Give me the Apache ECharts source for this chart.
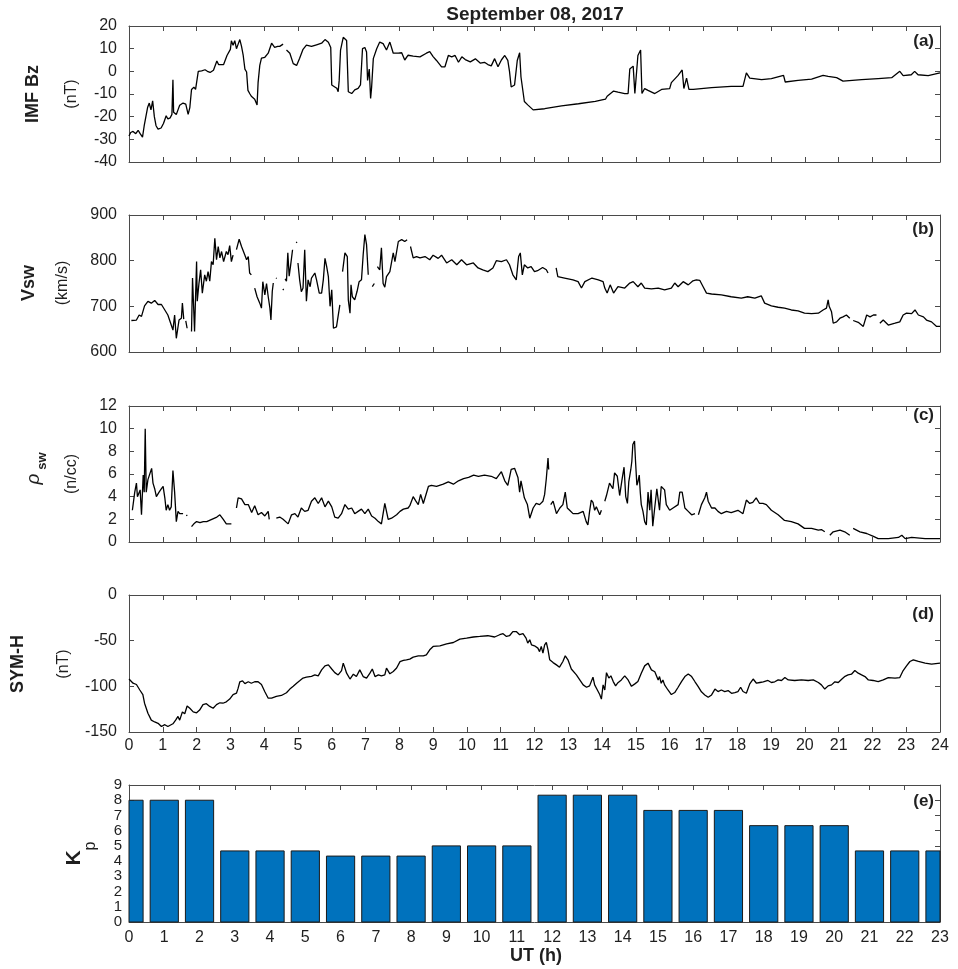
<!DOCTYPE html>
<html><head><meta charset="utf-8">
<script src="https://cdn.jsdelivr.net/npm/echarts/dist/echarts.min.js"></script>
<style>html,body{margin:0;padding:0;background:#fff}#c{width:958px;height:969px}</style>
</head><body><div id="c"></div>
<script>
// ---- data (UT hour, value); null = data gap ----
const imfBz = [[0,-28.5],[0.05,-27],[0.12,-26.5],[0.2,-27.5],[0.27,-26],[0.33,-27.5],[0.4,-29],[0.45,-24],[0.5,-20],[0.55,-16],[0.6,-14],[0.65,-17],[0.7,-13],[0.75,-20],[0.8,-24],[0.86,-25.5],[0.95,-25],[1.02,-23],[1.1,-19.6],[1.15,-21],[1.22,-20.5],[1.27,-19],[1.3,-3.7],[1.32,-18],[1.4,-19],[1.45,-17],[1.5,-15],[1.6,-14],[1.68,-14.5],[1.75,-19],[1.8,-16],[1.85,-8],[1.92,-7],[1.97,-8],[2.05,0],[2.15,0.2],[2.25,0.7],[2.32,0],[2.4,-0.5],[2.5,0.5],[2.6,4.6],[2.65,3],[2.7,2.6],[2.8,3],[2.9,7],[3.0,9.7],[3.03,13.5],[3.08,11.5],[3.13,13.5],[3.18,10],[3.23,12],[3.28,14],[3.33,11],[3.38,7],[3.43,1],[3.48,-0.3],[3.52,-8.4],[3.58,-10],[3.62,-11],[3.72,-12.3],[3.79,-14.8],[3.82,-5],[3.87,2.6],[3.92,5.8],[4.02,6.2],[4.12,8],[4.22,12.4],[4.31,10.6],[4.4,11],[4.46,11],[4.56,12],null,[4.66,9.4],[4.76,8],[4.86,3.4],[4.96,2.6],[5.05,5.8],[5.15,9.7],[5.25,11.6],[5.4,11],[5.55,11.7],[5.7,12.4],[5.8,14],[5.9,12.8],[5.97,10.5],[6.0,-6],[6.09,-6.9],[6.15,-7.5],[6.19,-9],[6.22,-4],[6.26,9.4],[6.34,15],[6.44,13.6],[6.49,-9],[6.59,-9.8],[6.68,-8.2],[6.78,-7.5],[6.85,-6],[6.91,10],[6.98,10.5],[7.03,8.5],[7.06,-4],[7.11,1],[7.15,-12],[7.18,-7],[7.23,5.6],[7.33,10],[7.42,12.9],[7.52,12.2],[7.62,9.4],[7.72,12.9],[7.82,8],[7.97,8],[8.07,8.2],[8.16,5],[8.26,7.1],[8.41,6.7],[8.61,6.4],[8.8,8],[8.9,8.7],[9.0,6.5],[9.1,4.8],[9.25,2],[9.35,2],[9.45,7],[9.55,6.4],[9.65,7],[9.75,4],[9.85,6.4],[9.95,5.2],[10.1,4.2],[10.25,5.5],[10.4,3.6],[10.52,4],[10.62,3],[10.72,2.4],[10.82,5.6],[10.92,2],[11.02,5],[11.12,7],[11.21,4.8],[11.26,0],[11.31,-6.9],[11.41,-6],[11.49,4.8],[11.56,8.2],[11.6,-2.5],[11.7,-13.3],[11.8,-14.8],[11.96,-17],[12.0,-16.8],[12.3,-16.5],[12.8,-15.2],[13.3,-14.3],[13.8,-13.3],[14.1,-12.3],[14.15,-11],[14.34,-8.7],[14.47,-9.2],[14.67,-9.8],[14.77,-9.8],[14.82,1],[14.92,2.3],[14.97,-9.8],[15.02,-9.8],[15.06,7],[15.14,9.4],[15.18,-9.8],[15.26,-7.6],[15.36,-8.4],[15.56,-9.8],[15.76,-8],[16.0,-7.6],[16.05,-5],[16.1,-5.3],[16.25,-1.8],[16.37,0.6],[16.42,-7.6],[16.5,-3],[16.57,-8],[16.7,-8],[17.24,-7.2],[17.82,-6.6],[18.17,-6.6],[18.27,-0.7],[18.37,-3],[18.72,-3.7],[19.01,-3.2],[19.37,-1.8],[19.42,-4.7],[19.8,-4],[20.2,-3.4],[20.54,-1.8],[20.69,-2.2],[20.94,-2.8],[21.13,-4.3],[21.68,-3.7],[22.17,-3.2],[22.57,-2.8],[22.81,0],[22.91,-1.9],[23.15,-1.5],[23.25,0],[23.35,-1.5],[23.65,-1.9],[24,-0.7]];

const vsw = [[0.07,669],[0.22,670],[0.3,681],[0.37,678],[0.46,701],[0.56,711],[0.66,707],[0.76,713],[0.86,704],[0.96,704],[1.06,692],[1.15,681],[1.25,659],[1.3,648],[1.35,681],[1.4,630],[1.48,670],[1.55,674],[1.58,707],[1.62,672],null,[1.68,668],[1.72,652],null,[1.85,645],[1.88,762],[1.94,645],[2.0,798],[2.02,711],[2.07,750],[2.12,780],[2.17,729],[2.24,769],[2.29,755],[2.34,776],[2.39,755],[2.44,798],[2.49,791],[2.54,849],[2.59,802],[2.64,831],[2.69,806],[2.74,820],[2.8,798],[2.88,820],[2.93,813],[2.98,833],[3.03,798],[3.08,812],null,[3.18,824],[3.26,847],[3.33,831],[3.43,812],[3.48,802],[3.53,809],[3.57,773],[3.62,769],null,[3.72,740],[3.79,721],[3.87,707],[3.92,696],[3.96,754],[4.02,725],[4.07,750],[4.12,721],[4.17,696],[4.2,670],[4.24,733],[4.27,751],null,[4.35,762],[4.37,761],null,[4.55,736],[4.58,738],null,[4.62,760],[4.66,755],[4.7,817],[4.74,766],[4.78,788],[4.84,824],null,[4.95,839],[4.97,841],null,[5.0,795],[5.05,758],[5.1,732],[5.15,740],[5.2,824],[5.25,711],[5.3,758],[5.36,743],[5.4,762],[5.5,773],[5.55,758],[5.63,729],[5.7,729],[5.75,758],[5.8,805],[5.85,787],[5.9,765],[5.95,700],[6.0,736],[6.05,652],[6.09,648],[6.14,655],[6.19,652],[6.24,703],null,[6.32,776],[6.39,817],[6.46,809],[6.49,714],[6.54,685],[6.57,747],[6.61,721],[6.68,714],[6.75,733],[6.81,754],[6.88,758],[6.93,813],[6.98,857],[7.03,835],[7.08,769],null,[7.2,743],[7.26,750],null,[7.35,787],[7.38,787],[7.42,780],[7.47,828],[7.52,750],[7.57,742],[7.62,765],[7.72,776],[7.82,817],[7.87,798],[7.97,842],[8.07,846],[8.16,842],[8.23,846],null,[8.33,831],[8.41,806],[8.51,809],[8.61,806],[8.76,809],[8.9,802],[9.0,812],[9.15,805],[9.25,812],[9.4,795],[9.55,802],[9.7,791],[9.84,802],[9.99,791],[10.19,795],[10.33,784],[10.47,780],[10.62,776],[10.77,784],[10.87,800],[11.02,798],[11.17,802],[11.26,791],[11.36,769],[11.46,758],[11.53,809],[11.58,817],[11.64,769],[11.7,791],[11.8,784],[11.9,787],[12.0,776],[12.09,778],[12.24,785],[12.35,780],[12.4,773],null,[12.64,784],[12.69,765],[12.89,762],[13.14,758],[13.29,754],[13.39,740],[13.49,754],[13.7,762],[13.89,758],[14.03,754],[14.08,740],[14.15,729],[14.24,747],[14.34,729],[14.47,743],[14.67,740],[14.82,751],[14.92,754],[15.06,743],[15.16,751],[15.26,740],[15.46,738],[15.66,740],[15.85,736],[16.05,740],[16.15,751],[16.25,743],[16.4,754],[16.55,747],[16.69,756],[16.79,758],[16.89,757],[16.99,743],[17.09,729],[17.24,727],[17.53,725],[17.82,721],[18.12,718],[18.31,721],[18.52,718],[18.71,723],[18.81,707],[19.01,701],[19.21,698],[19.4,696],[19.6,692],[19.8,690],[19.99,685],[20.2,684],[20.4,685],[20.54,692],[20.64,696],[20.69,714],[20.72,700],[20.79,688],[20.84,663],[20.94,666],[21.04,674],[21.13,677],[21.23,681],[21.33,674],null,[21.43,669],[21.58,665],[21.73,656],[21.83,681],[21.93,677],[22.03,681],[22.12,681],null,[22.22,663],[22.32,670],[22.47,659],[22.67,663],[22.81,666],[22.91,681],[23.01,685],[23.16,684],[23.26,692],[23.36,681],[23.51,677],[23.6,670],[23.75,666],[23.9,656],[24,656]];

const rhoSw = [[0.1,2.8],[0.17,4.4],[0.22,5.2],[0.25,4],[0.3,4.1],[0.33,4.6],[0.37,2.4],[0.42,5.9],[0.45,4.4],[0.48,10],[0.51,4.4],[0.56,5.5],[0.61,5.4],[0.67,6.5],[0.71,5.2],[0.76,4.7],[0.81,4],[0.89,4.4],[0.96,4.7],[1.01,4.9],[1.06,3.9],[1.1,2.8],[1.15,3.3],[1.2,2.8],[1.25,3.1],[1.3,6.3],[1.35,4.4],[1.4,1.8],[1.45,2.7],[1.5,2.5],[1.6,2.5],null,[1.7,2.4],[1.72,2.3],null,[1.85,1.35],[1.92,1.6],[2.0,1.8],[2.1,1.7],[2.2,1.8],[2.3,1.8],[2.45,2.0],[2.6,2.2],[2.69,2.4],[2.79,2.0],[2.88,1.6],[3.03,1.6],null,[3.18,3.0],[3.23,3.9],[3.33,3.8],[3.43,3.3],[3.53,3.3],[3.63,2.6],[3.72,3.2],[3.82,2.4],[3.92,2.6],[4.02,2.3],[4.12,2.7],[4.15,2.0],null,[4.36,2.1],[4.46,2.2],[4.56,2.0],[4.71,1.6],[4.81,2.4],[4.91,2.5],[5.0,2.2],[5.1,3.0],[5.2,2.7],[5.3,2.8],[5.4,3.6],[5.5,3.9],[5.6,3.4],[5.7,3.9],[5.8,3.1],[5.9,3.6],[6.0,3.1],[6.09,2.2],[6.19,2.1],[6.29,2.5],[6.39,3.3],[6.49,2.9],[6.59,3.0],[6.68,2.5],[6.78,2.7],[6.88,2.9],[6.98,2.5],[7.08,2.9],[7.18,2.3],[7.28,2.1],[7.38,1.8],[7.47,1.6],[7.52,2.5],[7.57,3.4],[7.67,2.0],[7.77,2.1],[7.92,2.4],[8.02,2.7],[8.12,2.9],[8.26,3.0],[8.31,3.2],[8.41,4.0],[8.49,3.6],[8.56,3.3],[8.63,4.2],[8.71,3.4],[8.76,3.3],[8.86,4.9],[8.95,5.0],[9.1,4.9],[9.3,5.1],[9.45,5.3],[9.6,5.1],[9.75,5.4],[9.9,5.6],[10.05,5.7],[10.2,5.9],[10.34,5.8],[10.52,5.9],[10.72,5.8],[10.87,5.6],[11.02,6.2],[11.12,5.4],[11.21,5.0],[11.31,6.4],[11.41,6.5],[11.51,5.7],[11.56,4.4],[11.6,5.4],[11.7,3.9],[11.79,3.3],[11.86,2.1],[11.96,3.0],[12.05,3.4],[12.15,3.3],[12.25,3.6],[12.3,4.2],[12.35,5.6],[12.4,7.4],[12.42,6.4],null,[12.48,3.3],[12.55,3.6],[12.65,2.5],[12.75,3.0],[12.84,3.3],[12.91,4.4],[12.97,3.0],[13.04,2.8],[13.14,2.5],[13.29,2.5],[13.44,2.7],[13.53,1.8],[13.58,1.5],[13.63,2.7],[13.68,3.7],[13.73,3.5],[13.78,2.8],[13.83,3.1],[13.93,2.4],[13.98,2.8],null,[14.08,3.6],[14.13,4.1],[14.22,5.2],[14.32,4.7],[14.37,6.1],[14.45,5.8],[14.52,4.1],[14.59,5.5],[14.65,6.6],[14.7,4.0],[14.75,3.4],[14.79,5.3],[14.85,6.4],[14.88,7.1],[14.91,8.6],[14.96,8.9],[14.99,7.1],[15.03,5.0],[15.06,5.3],[15.1,5.9],[15.13,4.4],[15.16,3.3],[15.21,2.7],[15.26,1.8],[15.31,1.5],[15.36,4.4],[15.41,2.8],[15.45,4.6],[15.5,1.4],[15.55,2.8],[15.62,4.7],[15.7,2.8],[15.75,4.9],[15.85,4.6],[15.9,3.3],[16.0,2.8],[16.1,3.0],[16.25,3.3],[16.3,4.4],[16.37,4.4],[16.45,3.0],[16.55,2.7],[16.65,2.4],[16.75,2.5],null,[16.85,2.4],[16.94,3.3],[17.04,3.9],[17.09,4.4],[17.14,3.6],[17.24,3.0],[17.34,3.0],[17.43,2.7],[17.53,2.5],[17.68,2.7],[17.82,2.6],[18.02,2.8],[18.17,2.5],[18.27,3.7],[18.37,3.4],[18.46,3.5],[18.56,3.9],[18.66,3.4],[18.76,3.4],[18.86,3.3],[19.01,2.8],[19.21,2.4],[19.4,1.9],[19.6,1.8],[19.8,1.6],[19.99,1.2],[20.2,1.2],[20.4,1.05],[20.49,1.1],[20.59,0.9],null,[20.74,0.6],[20.84,0.9],[21.04,1.05],[21.18,0.9],[21.33,0.6],null,[21.43,1.2],[21.63,0.9],[21.83,0.75],[22.03,0.5],[22.17,0.3],[22.47,0.3],[22.77,0.4],[22.87,0.6],[22.97,0.3],[23.16,0.4],[23.56,0.3],[24,0.3]];

const symH = [[0,-92],[0.12,-96.6],[0.22,-98],[0.27,-96.6],[0.32,-104],[0.41,-109],[0.46,-118.5],[0.56,-129.5],[0.66,-137],[0.76,-139],[0.86,-140.5],[0.96,-144],[1.06,-142],[1.15,-144],[1.2,-146],[1.3,-141],[1.38,-137],[1.45,-133],[1.5,-137],[1.58,-128],[1.65,-130],[1.72,-121.5],[1.8,-124],[1.9,-128],[2.0,-129],[2.09,-126],[2.19,-120],[2.29,-119],[2.39,-122],[2.49,-124],[2.59,-120],[2.69,-118],[2.78,-118.5],[2.88,-117],[2.98,-114],[3.08,-109],[3.18,-107.5],[3.23,-102],[3.28,-95],[3.36,-94],[3.43,-97],[3.53,-95],[3.62,-96.6],[3.72,-95],[3.82,-95],[3.92,-98],[4.02,-106],[4.12,-113],[4.22,-113],[4.36,-111],[4.51,-110],[4.66,-107],[4.76,-103],[4.86,-100],[4.96,-96.6],[5.05,-94],[5.15,-91],[5.25,-90],[5.4,-89],[5.5,-87.5],[5.6,-88.5],[5.7,-82],[5.8,-77.6],[5.9,-76.5],[6.0,-81],[6.09,-85],[6.19,-87.5],[6.29,-82.7],[6.34,-74.6],[6.39,-80],[6.44,-85.6],[6.54,-92],[6.64,-86.7],[6.73,-89.3],[6.83,-82],[6.93,-89.3],[7.03,-91],[7.13,-85.6],[7.2,-81],[7.28,-89.3],[7.38,-87.5],[7.47,-88.5],[7.57,-87.5],[7.62,-80],[7.72,-86.3],[7.82,-83.8],[7.92,-80],[8.02,-73],[8.12,-71.7],[8.21,-71],[8.31,-70.2],[8.41,-68],[8.56,-66.6],[8.71,-66.6],[8.8,-65.5],[8.9,-60],[9.0,-56.3],[9.2,-55.6],[9.4,-53.4],[9.6,-52],[9.79,-48.3],[9.99,-47.2],[10.19,-46],[10.38,-45.4],[10.62,-44.6],[10.82,-46],[10.97,-43.5],[11.07,-42.4],[11.17,-45.4],[11.26,-44.6],[11.36,-40],[11.46,-40],[11.56,-43.5],[11.66,-42.4],[11.75,-47.2],[11.8,-52.7],[11.86,-49],[11.91,-54.5],[12.0,-55.6],[12.1,-58.2],[12.15,-62],[12.2,-56.3],[12.25,-63.7],[12.3,-54.5],[12.35,-52],[12.4,-60],[12.45,-71],[12.55,-74],[12.65,-76.5],[12.74,-79],[12.84,-72.8],[12.91,-66.6],[12.99,-71],[13.09,-81],[13.14,-79],[13.24,-87.5],[13.34,-93],[13.44,-98.4],[13.54,-101],[13.63,-99.5],[13.73,-90],[13.78,-98.4],[13.86,-104],[13.93,-109],[13.98,-114],[14.03,-98.4],[14.08,-104],[14.13,-85],[14.2,-91],[14.26,-88.5],[14.33,-94.8],[14.4,-99.5],[14.47,-96],[14.57,-93],[14.67,-88.5],[14.77,-93],[14.87,-100],[14.97,-97.3],[15.06,-94.8],[15.16,-85.6],[15.26,-77.6],[15.36,-74.6],[15.41,-72.8],[15.46,-82],[15.56,-84],[15.66,-93],[15.7,-89.3],[15.75,-96.6],[15.8,-93],[15.85,-98.4],[15.95,-104],[16.05,-109],[16.15,-106.8],[16.25,-101],[16.35,-94.8],[16.45,-89.3],[16.55,-86.4],[16.65,-89.3],[16.75,-95],[16.84,-100],[16.94,-106],[17.04,-109.4],[17.14,-112],[17.24,-109.4],[17.34,-103],[17.43,-105.7],[17.53,-104],[17.63,-105.7],[17.73,-104.6],[17.83,-107.6],[17.93,-106.8],[18.02,-105.7],[18.1,-101],[18.17,-105.7],[18.27,-107.6],[18.37,-97.3],[18.47,-92],[18.57,-96.6],[18.67,-95.8],[18.77,-95],[18.91,-93.6],[19.01,-95.8],[19.11,-95],[19.21,-93],[19.31,-93.6],[19.41,-90.4],[19.51,-93],[19.7,-93.6],[19.9,-93],[20.1,-93.6],[20.25,-93],[20.4,-95.8],[20.49,-98.4],[20.59,-103],[20.69,-99.5],[20.79,-98.4],[20.89,-95],[20.99,-95.8],[21.09,-92.2],[21.19,-89],[21.28,-87.5],[21.38,-86.7],[21.48,-82.7],[21.58,-85.6],[21.68,-87.5],[21.78,-89.3],[21.88,-93],[22.02,-93.6],[22.17,-94.8],[22.32,-93],[22.47,-90.4],[22.67,-91.1],[22.81,-90.4],[22.91,-82.7],[23.01,-77.6],[23.11,-72.8],[23.21,-71],[23.36,-72.8],[23.56,-74.6],[23.75,-75.7],[24,-74.6]];

const kpHours = [0,1,2,3,4,5,6,7,8,9,10,11,12,13,14,15,16,17,18,19,20,21,22,23];
const kpValues = [8,8,8,4.67,4.67,4.67,4.33,4.33,4.33,5,5,5,8.33,8.33,8.33,7.33,7.33,7.33,6.33,6.33,6.33,4.67,4.67,4.67];

const yTicks = [
  {min:-40, max:20, interval:10},
  {min:600, max:900, interval:100},
  {min:0, max:12, interval:2},
  {min:-150, max:0, interval:50},
  {min:0, max:9, interval:1}
];
const xTicks = [{max:24},{max:24},{max:24},{max:24},{max:23}];

// ---- layout ----
const FONT = '"Liberation Sans", Arial, Helvetica, sans-serif';
const AX = '#4a4a4a';
const TXT = '#1f1f1f';
const gridPos = [
  {top:26, height:136},
  {top:215, height:137},
  {top:406, height:136},
  {top:595, height:137},
  {top:785, height:137}
];
const showXLabels = [false,false,false,true,true];

const grids = [], xAxes = [], yAxes = [];
gridPos.forEach((g,i) => {
  grids.push({left:129, right:18, top:g.top, height:g.height, containLabel:false});
  ['bottom','top'].forEach((pos,k) => {
    xAxes.push({
      type:'value', gridIndex:i, position:pos, min:0, max:xTicks[i].max, interval:1,
      axisLine:{show:true, onZero:false, lineStyle:{color:AX, width:1}},
      axisTick:{show:true, inside:true, length:5, lineStyle:{color:AX, width:1}},
      axisLabel:{show: k===0 && showXLabels[i], color:TXT, fontSize:16, fontFamily:FONT,
                 margin: i===4 ? 8 : 6, showMinLabel:true, showMaxLabel:true, hideOverlap:false},
      splitLine:{show:false}
    });
  });
  ['left','right'].forEach((pos,k) => {
    yAxes.push({
      type:'value', gridIndex:i, position:pos,
      min:yTicks[i].min, max:yTicks[i].max, interval:yTicks[i].interval,
      axisLine:{show:true, onZero:false, lineStyle:{color:AX, width:1}},
      axisTick:{show:true, inside:true, length:5, lineStyle:{color:AX, width:1}},
      axisLabel:{show: k===0, color:TXT, fontSize: i===4 ? 15 : 16, fontFamily:FONT,
                 margin: i===4 ? 7 : 12, showMinLabel:true, showMaxLabel:true, hideOverlap:false,
                 interval:0, lineHeight: i===4 ? 14 : 16},
      splitLine:{show:false}
    });
  });
});

const prep = arr => arr.map(d => d === null ? ['-','-'] : d);
const lineSeries = (data, i) => ({
  type:'line', xAxisIndex:2*i, yAxisIndex:2*i, data:prep(data),
  showSymbol:false, symbol:'none', connectNulls:false, clip:true,
  lineStyle:{color:'#000', width:1.3}, animation:false
});

// Kp bars: width 0.8 h centred on each hour, clipped to the plot box
const kpBar = (params, api) => {
  const h = api.value(0), v = api.value(1);
  const p0 = api.coord([h - 0.4, v]);
  const p1 = api.coord([h + 0.4, 0]);
  const cs = params.coordSys;
  const r = echarts.graphic.clipRectByRect(
    {x:p0[0], y:p0[1], width:p1[0]-p0[0], height:p1[1]-p0[1]},
    {x:cs.x, y:cs.y, width:cs.width, height:cs.height});
  if (!r) return null;
  return {type:'rect', shape:r, style:{fill:'#0072BD', stroke:'#1a1a1a', lineWidth:1}};
};

const series = [
  lineSeries(imfBz,0), lineSeries(vsw,1), lineSeries(rhoSw,2), lineSeries(symH,3),
  {type:'custom', xAxisIndex:8, yAxisIndex:8, renderItem:kpBar,
   data: kpHours.map((h,i)=>[h,kpValues[i]]), encode:{x:0, y:1}, animation:false, z:1}
];

const T = (x,y,text,size,weight,opts) => Object.assign({
  type:'text', x:x, y:y, rotation:0, z:100,
  style:{text:text, fontSize:size, fontWeight:weight||'normal', fontFamily:FONT, fill:TXT,
         align:'center', verticalAlign:'middle', textAlign:'center', textVerticalAlign:'middle'}
}, opts||{});
const R = Math.PI/2;
const rot = (x,y,text,size,weight,style) => {
  const t = T(x,y,text,size,weight,{rotation:R});
  if (style) t.style.fontStyle = style;
  return t;
};
const right = (x,y,text,size) => {
  const t = T(x,y,text,size,'bold');
  t.style.align = 'right'; t.style.textAlign = 'right';
  return t;
};

const graphics = [
  T(535,15,'September 08, 2017',19,'bold'),
  rot(33,94,'IMF Bz',18,'bold'), rot(72,94,'(nT)',16),
  rot(29,283,'Vsw',18,'bold'), rot(63,283,'(km/s)',16),
  rot(34,479,'ρ',19,'normal','italic'), rot(42,461,'sw',13,'bold'), rot(72,474,'(n/cc)',16),
  rot(18,664,'SYM-H',18,'bold'), rot(64,664,'(nT)',16),
  rot(74,858,'K',21,'bold'), rot(91,846,'p',16,'normal'),
  T(536,956,'UT (h)',18,'bold'),
  right(934,41,'(a)',17), right(934,229,'(b)',17), right(934,415,'(c)',17),
  right(934,614,'(d)',17), right(934,801,'(e)',17)
];

const chart = echarts.init(document.getElementById('c'), null, {renderer:'canvas'});
chart.setOption({
  animation:false,
  backgroundColor:'#fff',
  grid:grids, xAxis:xAxes, yAxis:yAxes, series:series, graphic:graphics
});
</script>
</body></html>
